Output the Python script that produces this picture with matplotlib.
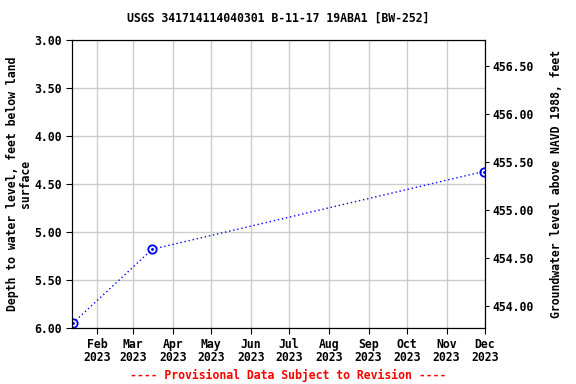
import matplotlib
matplotlib.use("Agg")
import matplotlib.pyplot as plt
import numpy as np
import pandas as pd

dates = pd.to_datetime(["2023-01-13", "2023-03-16", "2023-11-30"])
depth = [5.95, 5.18, 4.37]
datum = 459.77
tick_months = pd.date_range("2023-02-01", "2023-12-01", freq="MS")
right_ticks = [454.0, 454.5, 455.0, 455.5, 456.0, 456.5]

plt.rcParams["font.family"] = "DejaVu Sans Mono"
plt.rcParams["font.weight"] = "bold"
plt.rcParams["font.size"] = 8.3

fig = plt.figure(figsize=(5.76, 3.84), dpi=100)
ax = fig.add_axes([71.5 / 576, 1 - 328 / 384, 413.5 / 576, 288 / 384])

ax.plot(dates, depth, color="blue", ls=(0, (1, 2)), lw=1)
ax.plot(dates, depth, ls="none", marker="o", ms=6, mfc="none", mec="blue", mew=1.3)
ax.plot(dates, depth, ls="none", marker=".", ms=2, color="blue")

ax.set_xlim(pd.Timestamp("2023-01-12"), pd.Timestamp("2023-12-01"))
ax.set_ylim(6.0, 3.0)
ax.set_yticks(np.arange(3.0, 6.01, 0.5))
ax.yaxis.set_major_formatter(matplotlib.ticker.FormatStrFormatter("%.2f"))
ax.set_xticks(tick_months)
ax.set_xticklabels([d.strftime("%b\n%Y") for d in tick_months], linespacing=1.0)
ax.grid(True, color="#cccccc", lw=1)
ax.set_axisbelow(True)
ax.tick_params(direction="out", length=4, pad=3)
ax.set_ylabel("Depth to water level, feet below land\nsurface", fontweight="bold",
              linespacing=0.95, labelpad=2)
ax.set_title("USGS 341714114040301 B-11-17 19ABA1 [BW-252]", fontweight="bold", fontsize=8.3, pad=13)

ax2 = ax.twinx()
ax2.set_ylim(datum - 6.0, datum - 3.0)
ax2.set_yticks(right_ticks)
ax2.yaxis.set_major_formatter(matplotlib.ticker.FormatStrFormatter("%.2f"))
ax2.tick_params(direction="out", length=3, pad=2)
ax2.set_ylabel("Groundwater level above NAVD 1988, feet", fontweight="bold", labelpad=12)

fig.text(0.5, 1 - 375 / 384, "---- Provisional Data Subject to Revision ----",
         color="red", ha="center", va="center", fontweight="bold", fontsize=8.3)

fig.savefig("out.png", dpi=100)
